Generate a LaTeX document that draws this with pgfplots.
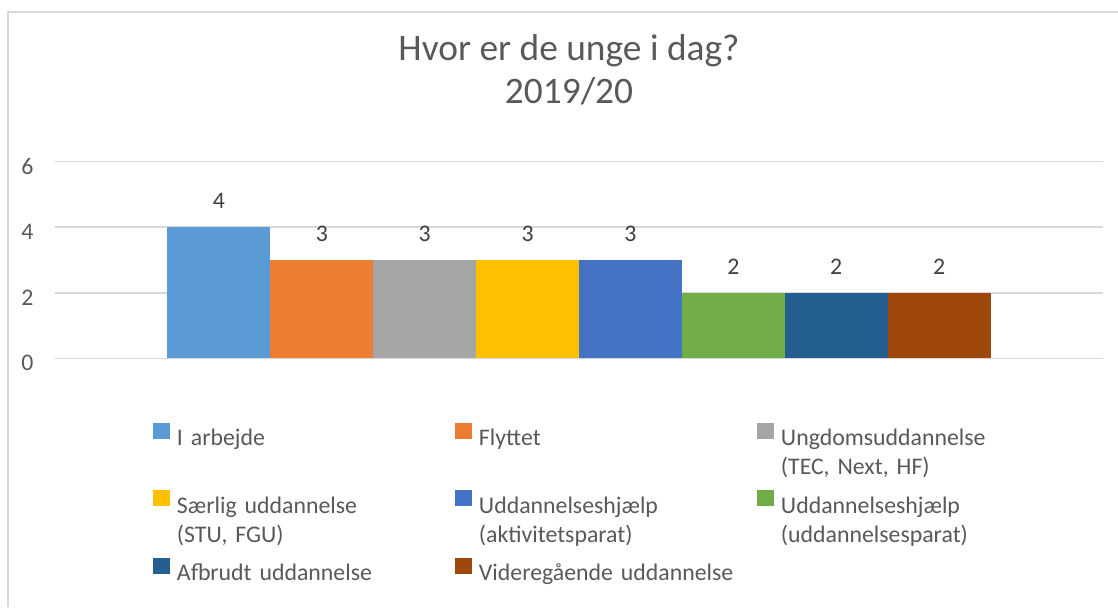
\documentclass[border=0pt]{standalone}
\usepackage{pgfplots}
\pgfplotsset{compat=1.18}
\usepackage{fontspec}
\setmainfont{Carlito}
\definecolor{cA}{HTML}{5B9BD5}
\definecolor{cB}{HTML}{ED7D31}
\definecolor{cC}{HTML}{A5A5A5}
\definecolor{cD}{HTML}{FFC000}
\definecolor{cE}{HTML}{4472C4}
\definecolor{cF}{HTML}{70AD47}
\definecolor{cG}{HTML}{255E91}
\definecolor{cH}{HTML}{9E480E}
\definecolor{txt}{HTML}{595959}
\definecolor{lbl}{HTML}{404040}
\definecolor{grd}{HTML}{D9D9D9}
\begin{document}
\begin{tikzpicture}
\path[use as bounding box] (0pt,0pt) rectangle (559pt,303.5pt);
\draw[grd, line width=0.75pt] (4pt,0pt) -- (4pt,297.5pt) -- (559pt,297.5pt);
\node[anchor=base, text=txt, font=\fontsize{18.7}{22}\selectfont] at (284.5pt,273.5pt) {Hvor er de unge i dag?};
\node[anchor=base, text=txt, font=\fontsize{18.7}{22}\selectfont] at (284.5pt,252pt) {2019/20};
\begin{axis}[
  at={(27.5pt,124.35pt)}, anchor=south west,
  scale only axis, width=524pt, height=98.3pt,
  xmin=-1, xmax=1, ymin=0, ymax=6,
  xtick=\empty, ytick={0,2,4,6},
  ymajorgrids, grid style={grd, line width=0.75pt},
  axis line style={draw=none},
  major tick length=0pt,
  /pgf/number format/assume math mode=true,
  yticklabel style={text=txt, font=\fontsize{11.9}{14}\selectfont, xshift=-7.2pt, yshift=-2.5pt},
  ybar=0pt, bar width=51.44pt,
  clip=false,
  nodes near coords,
  nodes near coords style={text=lbl, font=\fontsize{11.9}{14}\selectfont, yshift=5.8pt},
  legend columns=3,
  legend cell align=left,
  legend style={at={(rel axis cs:0.0935,-0.33)}, anchor=north west, draw=none, inner sep=0pt, outer sep=0pt,
    font=\fontsize{11.9}{14.5}\selectfont, text=txt, row sep=20.75pt, column sep=0pt,
    nodes={text width=135.5pt, align=left, inner xsep=3.5pt, inner ysep=0pt}},
  legend image code/.code={\fill[#1] (0pt,0pt) rectangle (8.5pt,8pt);},
]
\addplot[fill=cA, draw=none] coordinates {(0,4)};
\addplot[fill=cB, draw=none] coordinates {(0,3)};
\addplot[fill=cC, draw=none] coordinates {(0,3)};
\addplot[fill=cD, draw=none] coordinates {(0,3)};
\addplot[fill=cE, draw=none] coordinates {(0,3)};
\addplot[fill=cF, draw=none] coordinates {(0,2)};
\addplot[fill=cG, draw=none] coordinates {(0,2)};
\addplot[fill=cH, draw=none] coordinates {(0,2)};
\addlegendentry{I arbejde}
\addlegendentry{Flyttet}
\addlegendentry{Ungdomsuddannelse\\(TEC, Next, HF)}
\addlegendentry{Særlig uddannelse\\(STU, FGU)}
\addlegendentry{Uddannelseshjælp\\(aktivitetsparat)}
\addlegendentry{Uddannelseshjælp\\(uddannelsesparat)}
\addlegendentry{Afbrudt uddannelse}
\addlegendentry{Videregående uddannelse}
\end{axis}
\end{tikzpicture}
\end{document}
